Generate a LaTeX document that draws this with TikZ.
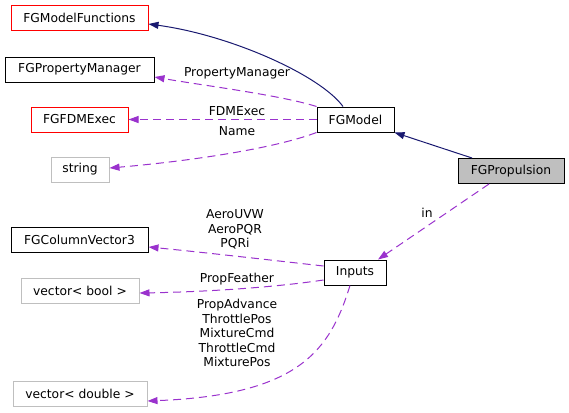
\documentclass[tikz,border=0pt]{standalone}
\usepackage{fontspec}
\setmainfont{DejaVu Sans}
\usetikzlibrary{arrows.meta}
\definecolor{navyedge}{HTML}{191970}
\definecolor{purpedge}{HTML}{9A32CD}
\definecolor{grayb}{HTML}{BFBFBF}
\tikzset{
  box/.style={draw, rectangle, minimum height=25pt, inner sep=0pt, font=\fontsize{12.3}{14.5}\selectfont, line width=1pt},
  redbox/.style={box, draw=red},
  graybox/.style={box, draw=grayb},
  blackbox/.style={box, draw=black},
  inherit/.style={draw=navyedge, line width=1pt, -{Triangle[length=10pt,width=7pt]}, navyedge},
  usage/.style={draw=purpedge, line width=1pt, dash pattern=on 8pt off 5pt, -{Triangle[length=10pt,width=7pt]}, purpedge},
  lbl/.style={font=\fontsize{12.3}{14.5}\selectfont, align=center, inner sep=0pt, text=black}
}
\begin{document}
\begin{tikzpicture}[x=1pt,y=-1pt]
\useasboundingbox (0,0) rectangle (569,412);
\node[redbox, minimum width=137pt] (fmf) at (79.5,18) {FGModelFunctions};
\node[blackbox, minimum width=149pt] (fpm) at (79.5,69.5) {FGPropertyManager};
\node[redbox, minimum width=97pt] (fdm) at (79.5,119.5) {FGFDMExec};
\node[graybox, minimum width=58pt] (str) at (80,169.5) {string};
\node[blackbox, minimum width=77pt] (fgm) at (355.5,119.5) {FGModel};
\node[blackbox, fill=grayb, minimum width=106pt] (fgp) at (511,171) {FGPropulsion};
\node[blackbox, minimum width=137pt] (fcv) at (79.5,239.5) {FGColumnVector3};
\node[graybox, minimum width=118pt] (vb) at (80,290.5) {vector< bool >};
\node[graybox, minimum width=134pt] (vd) at (80,393.5) {vector< double >};
\node[blackbox, minimum width=62pt] (inp) at (355,272.5) {Inputs};

\draw[inherit] ([xshift=-12.5pt]fgm.north) .. controls (320,75) and (230,35) .. ([yshift=-6pt]fmf.east);
\draw[inherit] ([xshift=-39pt]fgp.north) -- (fgm.south east);
\draw[usage] (fgm.north west) .. controls (280,95) and (200,85) .. ([yshift=-7.5pt]fpm.east);
\draw[usage] (fgm.west) -- (fdm.east);
\draw[usage] (fgm.south west) .. controls (270,150) and (180,162) .. ([yshift=1.5pt]str.east);
\draw[usage] ([xshift=-22pt]fgp.south) -- ([xshift=23pt]inp.north);
\draw[usage] ([yshift=6.5pt]inp.west) .. controls (270,260) and (200,252) .. ([yshift=-7.5pt]fcv.east);
\draw[usage] ([yshift=-7.5pt]inp.west) .. controls (270,288) and (200,292) .. ([yshift=-2.5pt]vb.east);
\draw[usage] ([xshift=-5pt]inp.south) .. controls (330,350) and (300,395) .. ([yshift=-7.5pt]vd.east);

\node[lbl] (lpm) at (237,73) {PropertyManager};
\node[lbl] (lfdm) at (237,111) {FDMExec};
\node[lbl] (lname) at (237,131) {Name};
\node[lbl] (lin) at (427,213) {in};
\node[lbl] (laero) at (235,229.5) {AeroUVW\\AeroPQR\\PQRi};
\node[lbl] (lpf) at (237,279) {PropFeather};
\node[lbl] (lprop) at (237,333) {PropAdvance\\ThrottlePos\\MixtureCmd\\ThrottleCmd\\MixturePos};
\end{tikzpicture}
\end{document}
